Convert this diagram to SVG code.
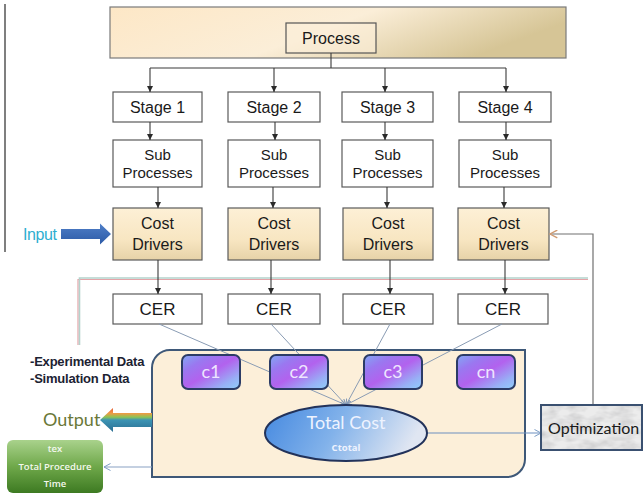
<svg xmlns="http://www.w3.org/2000/svg" width="643" height="496" viewBox="0 0 643 496">
  <style>
    .box { fill: #ffffff; stroke: #5a5a5a; stroke-width: 1.2; }
    .cd { fill: url(#cdGrad); stroke: #5a5a5a; stroke-width: 1.2; }
    .lbl { font-family: "Liberation Sans", Arial, sans-serif; fill: #1a1a1a; text-anchor: middle; }
    .l16 { font-size: 16px; }
    .l15 { font-size: 15px; }
    .l17 { font-size: 17px; }
    .wire { fill: none; stroke: #3a3a3a; stroke-width: 1.1; }
    .thin { fill: none; stroke: #8a9cb4; stroke-width: 1; }
    .cbox { fill: url(#cGrad); stroke: #2c3c66; stroke-width: 2; }
    .ctxt { font-family: Lato, "Open Sans", sans-serif; font-size: 18px; fill: #eee6ff; text-anchor: middle; }
    .gtxt { font-family: "Open Sans", sans-serif; font-size: 9.5px; font-weight: 600; fill: #f4f8ee; text-anchor: middle; }
  </style>
  <defs>
    <linearGradient id="bandGrad" x1="0" y1="0" x2="1" y2="0.3">
      <stop offset="0" stop-color="#fde7c6"/>
      <stop offset="0.55" stop-color="#fbeed8"/>
      <stop offset="1" stop-color="#d6c596"/>
    </linearGradient>
    <linearGradient id="cdGrad" x1="0" y1="0" x2="0" y2="1">
      <stop offset="0" stop-color="#fdf0d6"/>
      <stop offset="0.6" stop-color="#f8e6c2"/>
      <stop offset="1" stop-color="#e6d2a8"/>
    </linearGradient>
    <linearGradient id="cGrad" x1="0" y1="0" x2="1" y2="1">
      <stop offset="0" stop-color="#82aaf4"/>
      <stop offset="0.25" stop-color="#9a78f0"/>
      <stop offset="0.5" stop-color="#b262ee"/>
      <stop offset="0.8" stop-color="#98b0f6"/>
      <stop offset="1" stop-color="#90d0fa"/>
    </linearGradient>
    <linearGradient id="ellGrad" x1="0" y1="0" x2="1" y2="0.2">
      <stop offset="0" stop-color="#4488e0"/>
      <stop offset="0.5" stop-color="#82b2ea"/>
      <stop offset="1" stop-color="#e0e6f2"/>
    </linearGradient>
    <linearGradient id="greenGrad" x1="0" y1="0" x2="0" y2="1">
      <stop offset="0" stop-color="#a9d28c"/>
      <stop offset="0.5" stop-color="#6fa84a"/>
      <stop offset="1" stop-color="#3d7a22"/>
    </linearGradient>
    <linearGradient id="inGrad" x1="0" y1="0" x2="0" y2="1">
      <stop offset="0" stop-color="#4f7fc8"/>
      <stop offset="1" stop-color="#2c5aa6"/>
    </linearGradient>
    <linearGradient id="outGrad" x1="0" y1="0" x2="0" y2="1">
      <stop offset="0" stop-color="#e4603a"/>
      <stop offset="0.22" stop-color="#f09a44"/>
      <stop offset="0.38" stop-color="#8cc454"/>
      <stop offset="0.5" stop-color="#3c94b4"/>
      <stop offset="1" stop-color="#2a6e92"/>
    </linearGradient>
    <filter id="marble" x="0" y="0" width="1" height="1">
      <feTurbulence type="fractalNoise" baseFrequency="0.06 0.12" numOctaves="3" seed="4" result="n"/>
      <feColorMatrix in="n" type="matrix" values="0 0 0 0 0.55  0 0 0 0 0.55  0 0 0 0 0.56  0 0 0 -1.6 1.05" result="g"/>
      <feFlood flood-color="#ececec" result="bg"/>
      <feComposite in="g" in2="bg" operator="over" result="m"/>
      <feComposite in="m" in2="SourceGraphic" operator="in"/>
    </filter>
    <marker id="ah" viewBox="0 0 6 6" refX="6" refY="3" markerWidth="6" markerHeight="6" orient="auto" markerUnits="userSpaceOnUse">
      <path d="M0,0 L6,3 L0,6 Z" fill="#2a2a2a"/>
    </marker>
    <marker id="openBlue" viewBox="0 0 8 8" refX="7.5" refY="4" markerWidth="8" markerHeight="8" orient="auto" markerUnits="userSpaceOnUse">
      <path d="M1,0.5 L7.5,4 L1,7.5" fill="none" stroke="#7c9cc4" stroke-width="1"/>
    </marker>
    <marker id="openTan" viewBox="0 0 8 8" refX="7.5" refY="4" markerWidth="9" markerHeight="9" orient="auto" markerUnits="userSpaceOnUse">
      <path d="M1,0.5 L7.5,4 L1,7.5" fill="none" stroke="#d09a70" stroke-width="1.2"/>
    </marker>
    <marker id="smallBlue" viewBox="0 0 6 6" refX="6" refY="3" markerWidth="6" markerHeight="6" orient="auto" markerUnits="userSpaceOnUse">
      <path d="M0,0.5 L6,3 L0,5.5" fill="none" stroke="#7c94b4" stroke-width="1"/>
    </marker>
  </defs>

  <rect width="643" height="496" fill="#ffffff"/>

  <!-- left margin rule -->
  <line x1="5" y1="4" x2="5" y2="252" stroke="#555" stroke-width="1.5"/>

  <!-- top process band -->
  <g id="process">
    <rect x="110" y="7" width="456" height="51" fill="url(#bandGrad)" stroke="#7a7a7a" stroke-width="1.2"/>
    <rect x="286" y="23" width="90" height="30" fill="#fcefd8" fill-opacity="0.6" stroke="#555" stroke-width="1.2"/>
    <text class="lbl l16" x="331" y="44">Process</text>
  </g>

  <!-- stage columns -->
  <g id="stage1"><rect class="box" x="113" y="92" width="89" height="30"/><text class="lbl l16" x="157.5" y="113">Stage 1</text></g>
  <g id="stage2"><rect class="box" x="228" y="92" width="92" height="30"/><text class="lbl l16" x="274" y="113">Stage 2</text></g>
  <g id="stage3"><rect class="box" x="342" y="92" width="91" height="30"/><text class="lbl l16" x="387.5" y="113">Stage 3</text></g>
  <g id="stage4"><rect class="box" x="459" y="92" width="92" height="30"/><text class="lbl l16" x="505" y="113">Stage 4</text></g>

  <g id="sub1"><rect class="box" x="113" y="140" width="89" height="47"/><text class="lbl l15" x="157.5" y="160">Sub</text><text class="lbl l15" x="157.5" y="178">Processes</text></g>
  <g id="sub2"><rect class="box" x="228" y="140" width="92" height="47"/><text class="lbl l15" x="274" y="160">Sub</text><text class="lbl l15" x="274" y="178">Processes</text></g>
  <g id="sub3"><rect class="box" x="342" y="140" width="91" height="47"/><text class="lbl l15" x="387.5" y="160">Sub</text><text class="lbl l15" x="387.5" y="178">Processes</text></g>
  <g id="sub4"><rect class="box" x="459" y="140" width="92" height="47"/><text class="lbl l15" x="505" y="160">Sub</text><text class="lbl l15" x="505" y="178">Processes</text></g>

  <g id="cost1"><rect class="cd" x="113" y="208" width="89" height="52"/><text class="lbl l16" x="157.5" y="229">Cost</text><text class="lbl l16" x="157.5" y="250">Drivers</text></g>
  <g id="cost2"><rect class="cd" x="228" y="208" width="92" height="52"/><text class="lbl l16" x="274" y="229">Cost</text><text class="lbl l16" x="274" y="250">Drivers</text></g>
  <g id="cost3"><rect class="cd" x="343" y="208" width="90" height="52"/><text class="lbl l16" x="388" y="229">Cost</text><text class="lbl l16" x="388" y="250">Drivers</text></g>
  <g id="cost4"><rect class="cd" x="458" y="208" width="91" height="52"/><text class="lbl l16" x="503.5" y="229">Cost</text><text class="lbl l16" x="503.5" y="250">Drivers</text></g>

  <!-- model boundary rule -->
  <g id="boundary">
    <path d="M78,345 L78,279.5 L588,279.5" fill="none" stroke="#e4a4a8" stroke-width="1.2"/>
    <path d="M79.5,345 L79.5,278 L588,278" fill="none" stroke="#b4d2cc" stroke-width="1.6"/>
  </g>

  <g id="cer1"><rect class="box" x="113" y="294" width="89" height="30"/><text class="lbl l17" x="157.5" y="315">CER</text></g>
  <g id="cer2"><rect class="box" x="228" y="294" width="92" height="30"/><text class="lbl l17" x="274" y="315">CER</text></g>
  <g id="cer3"><rect class="box" x="343" y="294" width="90" height="30"/><text class="lbl l17" x="388" y="315">CER</text></g>
  <g id="cer4"><rect class="box" x="458" y="294" width="90" height="30"/><text class="lbl l17" x="503" y="315">CER</text></g>

  <!-- input arrow -->
  <g id="input">
    <text x="23" y="240" font-family="'Liberation Sans', Arial, sans-serif" font-size="16" fill="#2eaed0" letter-spacing="-0.4">Input</text>
    <polygon points="61,229 100,229 100,223.5 111,234 100,244.5 100,239 61,239" fill="url(#inGrad)"/>
  </g>

  <!-- cost model panel -->
  <g id="model">
    <path d="M152,477 L152,368 A18,18 0 0 1 170,350 L525,350 L525,459 A18,18 0 0 1 507,477 Z" fill="#fcefd9" stroke="#3e5878" stroke-width="2"/>
  </g>

  <!-- connectors -->
  <g id="connectors">
    <path class="wire" d="M331,53 L331,68 M150,68 L506,68"/>
    <line class="wire" x1="150" y1="68" x2="150" y2="92" marker-end="url(#ah)"/>
    <line class="wire" x1="274" y1="68" x2="274" y2="92" marker-end="url(#ah)"/>
    <line class="wire" x1="385" y1="68" x2="385" y2="92" marker-end="url(#ah)"/>
    <line class="wire" x1="506" y1="68" x2="506" y2="92" marker-end="url(#ah)"/>

    <line class="wire" x1="150" y1="122" x2="150" y2="140" marker-end="url(#ah)"/>
    <line class="wire" x1="275" y1="122" x2="275" y2="140" marker-end="url(#ah)"/>
    <line class="wire" x1="385" y1="122" x2="385" y2="140" marker-end="url(#ah)"/>
    <line class="wire" x1="506" y1="122" x2="506" y2="140" marker-end="url(#ah)"/>

    <line class="wire" x1="158" y1="187" x2="158" y2="208" marker-end="url(#ah)"/>
    <line class="wire" x1="273" y1="187" x2="273" y2="208" marker-end="url(#ah)"/>
    <line class="wire" x1="387" y1="187" x2="387" y2="208" marker-end="url(#ah)"/>
    <line class="wire" x1="504" y1="187" x2="504" y2="208" marker-end="url(#ah)"/>

    <line class="wire" x1="158" y1="260" x2="158" y2="294" marker-end="url(#ah)"/>
    <line class="wire" x1="271" y1="260" x2="271" y2="294" marker-end="url(#ah)"/>
    <line class="wire" x1="390" y1="260" x2="390" y2="294" marker-end="url(#ah)"/>
    <line class="wire" x1="505" y1="260" x2="505" y2="294" marker-end="url(#ah)"/>

    <!-- CER outputs gathered into the total cost -->
    <line class="thin" x1="159" y1="324" x2="346" y2="405" marker-end="url(#smallBlue)"/>
    <line class="thin" x1="271" y1="324" x2="346" y2="405" marker-end="url(#smallBlue)"/>
    <line class="thin" x1="390" y1="324" x2="346" y2="405" marker-end="url(#smallBlue)"/>
    <line class="thin" x1="502" y1="324" x2="346" y2="405" marker-end="url(#smallBlue)"/>

    <!-- feedback from optimization -->
    <path d="M593,405 L593,234 L550,234" fill="none" stroke="#707070" stroke-width="1.2" marker-end="url(#openTan)"/>

    <line x1="427" y1="433" x2="541" y2="433" stroke="#6c90c0" stroke-width="1.2" marker-end="url(#openBlue)"/>
    <line x1="152" y1="467" x2="104" y2="467" stroke="#8aa2c4" stroke-width="1.2" marker-end="url(#openBlue)"/>
  </g>

  <g id="c1"><rect class="cbox" x="182" y="355" width="58" height="34" rx="6"/><text class="ctxt" x="211" y="378">c1</text></g>
  <g id="c2"><rect class="cbox" x="270" y="355" width="58" height="34" rx="6"/><text class="ctxt" x="299" y="378">c2</text></g>
  <g id="c3"><rect class="cbox" x="364" y="355" width="58" height="34" rx="6"/><text class="ctxt" x="393" y="378">c3</text></g>
  <g id="cn"><rect class="cbox" x="457" y="355" width="58" height="34" rx="6"/><text class="ctxt" x="486" y="378">cn</text></g>

  <g id="total">
    <ellipse cx="346" cy="433" rx="81" ry="28" fill="url(#ellGrad)" stroke="#22325a" stroke-width="2"/>
    <text x="346" y="429" font-family="Lato, 'Open Sans', sans-serif" font-size="18" fill="#eef3ff" text-anchor="middle">Total Cost</text>
    <text x="346" y="451" font-family="'Open Sans', sans-serif" font-size="9.5" font-weight="700" fill="#eef3ff" text-anchor="middle">Ctotal</text>
  </g>

  <g id="data">
    <text font-family="'Liberation Sans', Arial, sans-serif" font-size="13" font-weight="700" fill="#1c2232" letter-spacing="-0.2">
      <tspan x="30" y="366">-Experimental Data</tspan>
      <tspan x="30" y="383">-Simulation Data</tspan>
    </text>
  </g>

  <g id="output">
    <text x="43" y="426" font-family="Lato, 'Open Sans', sans-serif" font-size="18" fill="#6a7838">Output</text>
    <polygon points="152,413 113,413 113,408 100,420 113,432 113,427 152,427" fill="url(#outGrad)"/>
  </g>

  <g id="procTime">
    <rect x="7" y="440" width="96" height="53" rx="6" fill="url(#greenGrad)"/>
    <text class="gtxt" x="55" y="452">tex</text>
    <text class="gtxt" x="55" y="470">Total Procedure</text>
    <text class="gtxt" x="55" y="487">Time</text>
  </g>

  <g id="optimization">
    <rect x="541" y="405" width="101" height="45" fill="#e8e8e8" filter="url(#marble)"/>
    <rect x="541" y="405" width="101" height="45" fill="none" stroke="#3a5070" stroke-width="2"/>
    <text x="548" y="434" font-family="Lato, 'Open Sans', sans-serif" font-size="16" fill="#1a1a1a">Optimization</text>
  </g>
</svg>
